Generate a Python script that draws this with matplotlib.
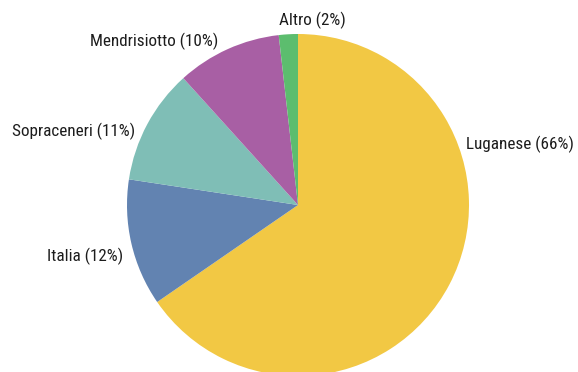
import matplotlib
matplotlib.use('Agg')
import matplotlib.pyplot as plt

# data
regions = ['Luganese', 'Italia', 'Sopraceneri', 'Mendrisiotto', 'Altro']
shares = [65.4, 12.0, 10.9, 9.9, 1.8]          # wedge sizes (%)
label_pct = [66, 12, 11, 10, 2]                  # percentages as printed
colors = ['#F2C844', '#6283B1', '#7FBEB6', '#A85FA4', '#5CBD6E']

# label anchors in pixel space (x, y from top, horizontal alignment)
label_pos = [(466, 144, 'left'), (123, 256, 'right'), (135, 131, 'right'),
             (218, 41, 'right'), (312, 20, 'center')]

W, H = 578, 372
fig = plt.figure(figsize=(W / 100, H / 100), dpi=100)
ax = fig.add_axes([0, 0, 1, 1])

ax.pie(shares, colors=colors, startangle=90, counterclock=False,
       center=(298, H - 205), radius=171, frame=True,
       wedgeprops={'linewidth': 0, 'antialiased': True})
ax.set_xlim(0, W)
ax.set_ylim(0, H)
ax.set_aspect('equal')
ax.axis('off')

for name, pct, (x, y, ha) in zip(regions, label_pct, label_pos):
    ax.text(x, H - y, f'{name} ({pct}%)', ha=ha, va='center',
            fontsize=12.3, color='#1c1c1c',
            family=['Roboto Condensed', 'DejaVu Sans'])

fig.savefig('out.png', dpi=100)
